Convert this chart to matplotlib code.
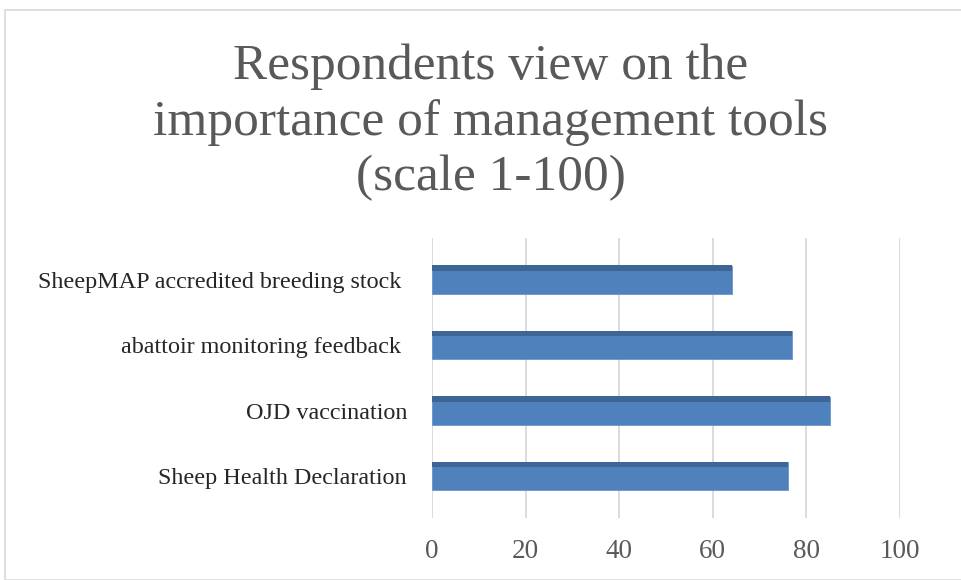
import matplotlib.pyplot as plt
from matplotlib.patches import Rectangle

# values (bottom to top)
categories = ['Sheep Health Declaration', 'OJD vaccination',
              'abattoir monitoring feedback ', 'SheepMAP accredited breeding stock ']
scores = [76, 85, 77, 64]
xticks = [0, 20, 40, 60, 80, 100]

TITLE = 'Respondents view on the\nimportance of management tools\n(scale 1-100)'

fig = plt.figure(figsize=(9.62, 5.80), dpi=100)
fig.patch.set_facecolor('white')

# chart border
fig.patches.append(Rectangle((5 / 962, 0), 1, 1 - 10 / 580, transform=fig.transFigure,
                             fill=False, edgecolor='#D9D9D9', linewidth=1.2))

ax = fig.add_axes([432 / 962, 1 - 518 / 580, 468 / 962, 280 / 580])

pos = list(range(len(categories)))
bar_h = 0.43
ax.barh(pos, scores, height=bar_h, color='#4F81BD', edgecolor='#6A95CC', linewidth=0.6, zorder=3)
# darker top strip gives the bars a little depth
ax.barh([p + bar_h / 2 - 0.035 for p in pos], scores, height=0.08, color='#3D6595',
        linewidth=0, zorder=4)

ax.set_xlim(0, 100)
ax.set_ylim(-0.64, 3.64)
ax.set_xticks(xticks)
ax.set_xticklabels([str(t) for t in xticks], fontsize=19.5, color='#595959', family='Liberation Serif')
ax.set_yticks(pos)
ax.set_yticklabels(categories, fontsize=17.4, color='#262626', family='Liberation Serif')
ax.tick_params(axis='x', length=0, pad=15)
ax.tick_params(axis='y', length=0, pad=18)

ax.grid(axis='x', color='#D9D9D9', linewidth=1.3, zorder=0)
for s in ax.spines.values():
    s.set_visible(False)

fig.text(491 / 962, 1 - 122 / 580, TITLE, ha='center', va='center', fontsize=37,
         color='#595959', family='Liberation Serif', linespacing=1.25)

fig.savefig('out.png', dpi=100)
